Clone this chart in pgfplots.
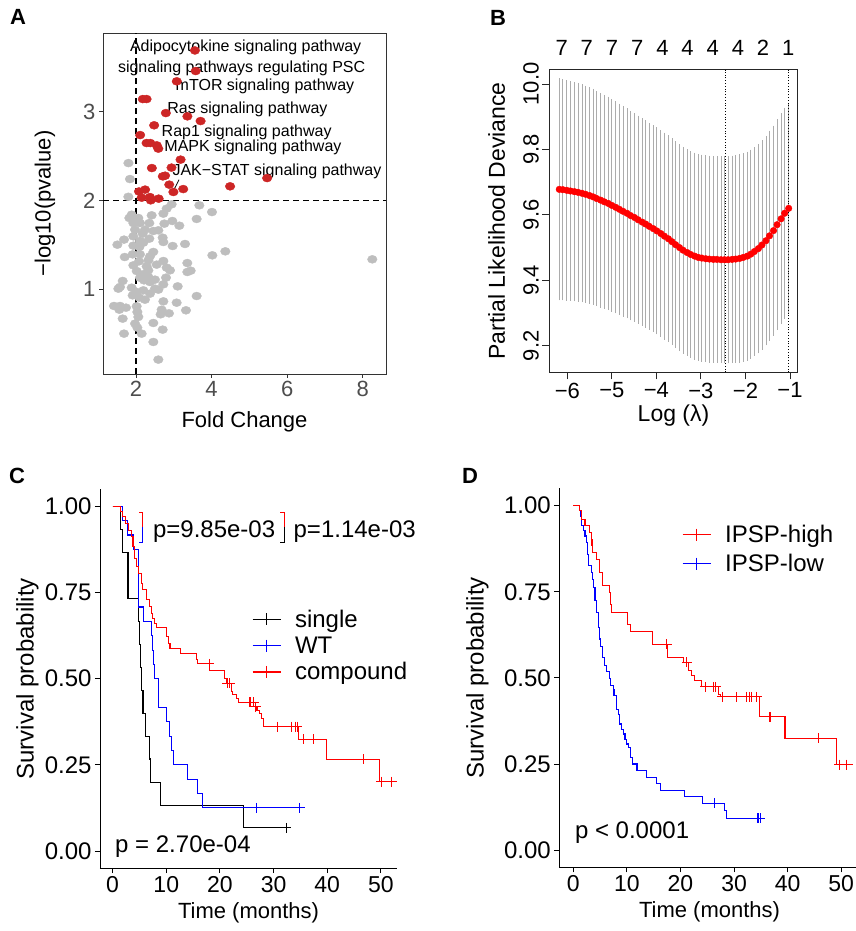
\documentclass[border=0pt]{standalone}
\usepackage{pgfplots}
\pgfplotsset{compat=1.18}
\usepackage{pgfplotstable}
\usepackage{fontspec}
\setmainfont{Liberation Sans}

\newcommand{\fs}[1]{\fontsize{#1}{#1}\selectfont}

\definecolor{volred}{RGB}{205,38,38}
\definecolor{volgray}{RGB}{190,190,190}
\definecolor{tickgray}{RGB}{77,77,77}
\definecolor{cvgray}{RGB}{172,172,172}

\pgfplotsset{
  every axis/.append style={scale only axis, anchor=south west,
    /pgf/number format/assume math mode=true},
  kmlegend/.style={
    legend image code/.code={%
      \draw[mark repeat=2,mark phase=2,##1] plot coordinates {(0pt,0pt) (14pt,0pt) (28pt,0pt)};
      \path (40pt,0pt);},
  },
}

% cross-validation curve (panel B)
\pgfplotstableread{
x y e
-6.18 9.678 .333
-6.10 9.677 .332
-6.01 9.675 .331
-5.93 9.673 .330
-5.84 9.671 .329
-5.76 9.669 .328
-5.67 9.666 .327
-5.59 9.663 .326
-5.50 9.659 .325
-5.42 9.655 .324
-5.34 9.650 .323
-5.25 9.645 .322
-5.17 9.640 .321
-5.08 9.635 .320
-5.00 9.629 .319
-4.91 9.623 .318
-4.83 9.617 .317
-4.75 9.611 .316
-4.66 9.605 .315
-4.58 9.598 .314
-4.49 9.592 .313
-4.41 9.585 .312
-4.32 9.578 .311
-4.24 9.572 .311
-4.16 9.565 .310
-4.07 9.558 .310
-3.99 9.551 .310
-3.90 9.543 .310
-3.82 9.535 .310
-3.73 9.527 .310
-3.65 9.518 .310
-3.57 9.509 .310
-3.48 9.500 .310
-3.40 9.492 .310
-3.31 9.485 .310
-3.23 9.479 .310
-3.14 9.474 .310
-3.06 9.470 .310
-2.98 9.468 .310
-2.89 9.466 .310
-2.81 9.465 .310
-2.72 9.464 .310
-2.64 9.464 .310
-2.55 9.463 .310
-2.47 9.463 .311
-2.39 9.463 .311
-2.30 9.464 .311
-2.22 9.465 .312
-2.13 9.467 .312
-2.05 9.470 .312
-1.96 9.474 .313
-1.88 9.480 .313
-1.80 9.488 .313
-1.71 9.497 .314
-1.63 9.508 .314
-1.54 9.521 .314
-1.46 9.536 .315
-1.37 9.552 .315
-1.29 9.570 .316
-1.20 9.588 .316
-1.12 9.605 .317
-1.03 9.620 .317
}\cvdata

\begin{document}
\begin{tikzpicture}
\useasboundingbox (0pt,0pt) rectangle (856pt,931pt);

\node[font=\bfseries\fs{22}] at (18pt,914pt) {A};
\node[font=\bfseries\fs{22}] at (498pt,913pt) {B};
\node[font=\bfseries\fs{22}] at (17pt,455pt) {C};
\node[font=\bfseries\fs{22}] at (470pt,455pt) {D};

% ---------------- A: volcano-like scatter
\begin{axis}[
  at={(103pt,557pt)}, width=283pt, height=341pt,
  xmin=1.127, xmax=8.616, ymin=0.042, ymax=3.887,
  xtick={2,4,6,8}, ytick={1,2,3},
  tick align=outside, tick pos=left, major tick length=4pt,
  axis line style={black!80, line width=0.9pt},
  tick style={black!80, line width=0.9pt},
  ticklabel style={font=\fs{22}, text=tickgray},
  xlabel={Fold Change}, ylabel={−log10(pvalue)},
  label style={font=\fs{22}},
  xlabel style={at={(axis description cs:0.5,-0.141)}, anchor=center},
  ylabel style={at={(axis description cs:-0.205,0.5)}, anchor=center},
]
\addplot[black, line width=1.2pt, dash pattern=on 6pt off 4pt] coordinates {(1.127,2) (8.616,2)};
\addplot[black, line width=1.2pt, dash pattern=on 6pt off 4pt] coordinates {(2,0.042) (2,3.887)};
\addplot[only marks, mark=*, mark size=4pt, volgray, mark options={draw=volgray, fill=volgray, xscale=1.2}] table {
x y
1.80 2.42
1.84 2.24
1.798 2.04
2.944 1.955
3.676 1.944
2.812 1.906
4.011 1.868
1.886 1.838
1.824 1.801
2.415 1.831
2.724 1.850
2.062 1.801
3.605 1.790
1.930 1.744
2.106 1.744
2.353 1.744
2.750 1.737
2.962 1.767
3.147 1.714
2.238 1.669
1.974 1.669
2.459 1.654
2.591 1.662
2.177 1.624
1.930 1.594
2.706 1.579
2.353 1.568
1.683 1.557
2.106 1.542
2.194 1.523
2.724 1.530
1.507 1.500
1.930 1.489
2.970 1.485
3.297 1.508
2.089 1.474
2.459 1.418
2.371 1.369
2.106 1.391
1.912 1.391
1.701 1.361
4.020 1.380
4.364 1.425
8.253 1.335
2.327 1.324
2.724 1.316
2.080 1.312
3.358 1.293
1.930 1.267
2.283 1.256
2.547 1.275
2.812 1.241
2.900 1.211
2.327 1.211
2.018 1.203
3.358 1.192
3.447 1.207
2.194 1.166
2.794 1.128
2.327 1.136
2.106 1.128
2.503 1.106
1.648 1.091
2.212 1.098
2.371 1.079
1.577 1.023
1.533 1.004
1.886 1.015
2.724 1.053
2.503 1.004
2.591 0.993
3.103 1.030
2.194 0.985
2.018 0.967
2.371 0.948
1.912 0.929
3.605 0.921
2.238 0.880
2.089 0.903
2.724 0.861
3.076 0.846
1.418 0.809
1.577 0.809
1.736 0.790
1.559 0.767
2.018 0.805
2.036 0.741
2.679 0.767
3.323 0.760
2.653 0.715
2.873 0.726
2.062 0.685
1.648 0.666
2.459 0.617
1.974 0.610
2.036 0.565
2.706 0.542
1.683 0.497
2.150 0.497
2.459 0.403
2.591 0.204
};
\addplot[only marks, mark=*, mark size=4pt, volred, mark options={draw=volred, fill=volred, xscale=1.2}] table {
x y
3.56 3.690
3.58 3.458
3.08 3.342
2.18 3.142
2.28 3.142
2.79 2.984
3.36 2.947
3.71 2.894
2.48 2.846
2.11 2.736
2.28 2.646
2.38 2.646
2.55 2.620
2.59 2.583
3.18 2.459
2.42 2.364
2.94 2.369
2.71 2.270
2.77 2.278
5.47 2.251
2.88 2.177
2.99 2.094
3.25 2.127
4.49 2.158
2.24 2.121
2.08 2.100
2.15 2.030
2.37 2.037
2.39 2.000
2.60 2.019
};
\draw[black, line width=0.8pt] (axis cs:3.138,2.233) -- (axis cs:3.005,2.120);
\node[font=\fs{16}] at (axis cs:4.902,3.722) {Adipocytokine signaling pathway};
\node[font=\fs{16}] at (axis cs:4.796,3.492) {signaling pathways regulating PSC};
\node[font=\fs{16}] at (axis cs:5.413,3.289) {mTOR signaling pathway};
\node[font=\fs{16}] at (axis cs:4.950,3.026) {Ras signaling pathway};
\node[font=\fs{16}] at (axis cs:4.929,2.770) {Rap1 signaling pathway};
\node[font=\fs{16}] at (axis cs:5.095,2.594) {MAPK signaling pathway};
\node[font=\fs{16}] at (axis cs:5.730,2.327) {JAK−STAT signaling pathway};
\end{axis}

% ---------------- B: cross-validation deviance
\begin{axis}[
  at={(549.3pt,558.7pt)}, width=248.4pt, height=302.6pt,
  xmin=-6.404, xmax=-0.827, ymin=9.119, ymax=10.0437,
  xtick={-6,-5,-4,-3,-2,-1}, xticklabels={−6,−5,−4,−3,−2,−1},
  ytick={9.2,9.4,9.6,9.8,10.0}, yticklabels={9.2,9.4,9.6,9.8,10.0},
  tick align=outside, tick pos=left, major tick length=7pt,
  axis line style={black!85, line width=0.9pt},
  tick style={black!85, line width=0.9pt},
  ticklabel style={font=\fs{22}},
  yticklabel style={rotate=90, anchor=south},
  xlabel={Log (λ)}, ylabel={Partial Likelihood Deviance},
  label style={font=\fs{23}},
  xlabel style={at={(axis description cs:0.5,-0.144)}, anchor=center},
  ylabel style={at={(axis description cs:-0.212,0.5)}, anchor=center},
  clip=false,
]
\addplot[only marks, mark=none, forget plot,
  error bars/.cd, y dir=both, y explicit,
  error bar style={cvgray, line width=0.8pt},
  error mark options={cvgray, mark size=2pt, line width=0.8pt}]
  table[x=x, y=y, y error=e] {\cvdata};
\addplot[black, dotted, line width=0.8pt] coordinates {(-2.446,9.119) (-2.446,10.0437)};
\addplot[black, dotted, line width=0.8pt] coordinates {(-1.03,9.119) (-1.03,10.0437)};
\addplot[only marks, mark=*, mark size=3.3pt, red, mark options={draw=red, fill=red}] table[x=x, y=y] {\cvdata};
\node[font=\fs{22}] at (axis cs:-6.126,10.11) {7};
\node[font=\fs{22}] at (axis cs:-5.561,10.11) {7};
\node[font=\fs{22}] at (axis cs:-4.995,10.11) {7};
\node[font=\fs{22}] at (axis cs:-4.430,10.11) {7};
\node[font=\fs{22}] at (axis cs:-3.865,10.11) {4};
\node[font=\fs{22}] at (axis cs:-3.299,10.11) {4};
\node[font=\fs{22}] at (axis cs:-2.734,10.11) {4};
\node[font=\fs{22}] at (axis cs:-2.169,10.11) {4};
\node[font=\fs{22}] at (axis cs:-1.604,10.11) {2};
\node[font=\fs{22}] at (axis cs:-1.038,10.11) {1};
\end{axis}

% ---------------- C: survival by mutation type
\begin{axis}[
  at={(100pt,62.8pt)}, width=297pt, height=379pt,
  xmin=-2.35, xmax=53.0, ymin=-0.05, ymax=1.05,
  axis lines*=left,
  xtick={0,10,20,30,40,50}, ytick={0,0.25,0.5,0.75,1},
  yticklabels={0.00,0.25,0.50,0.75,1.00},
  tick align=outside, major tick length=5pt,
  axis line style={black, line width=0.9pt}, tick style={black, line width=0.9pt},
  yticklabel style={font=\fs{24}},
  xticklabel style={font=\fs{23}},
  xlabel={Time (months)}, ylabel={Survival probability},
  xlabel style={font=\fs{22}, at={(axis description cs:0.5,-0.117)}, anchor=center},
  ylabel style={font=\fs{24}, at={(axis description cs:-0.244,0.5)}, anchor=center},
  clip=false, kmlegend,
  legend style={at={(0.511,0.688)}, anchor=north west, draw=none, fill=none,
    font=\fs{24}, row sep=4pt, inner sep=0pt},
  legend cell align=left,
]
\addplot[black, const plot, line width=1.1pt, forget plot] table {
m s
0 1
1.4 0.933
1.9 0.867
2.86 0.733
4.9 0.667
5.0 0.600
5.15 0.533
5.35 0.467
5.66 0.400
6.1 0.333
6.8 0.267
7.0 0.200
8.9 0.133
24.4 0.067
32.4 0.067
};
\addplot[blue, const plot, line width=1.1pt, forget plot] table {
m s
0 1
1.9 0.958
2.8 0.917
3.9 0.875
4.9 0.708
5.8 0.667
7.2 0.625
7.4 0.583
7.6 0.542
7.8 0.500
8.6 0.417
10.0 0.375
10.6 0.333
10.9 0.292
11.3 0.250
13.9 0.208
15.9 0.167
16.7 0.125
35.6 0.125
};
\addplot[red, const plot, line width=1.1pt, forget plot] table {
m s
0 1
1.4 0.985
1.9 0.970
2.4 0.951
3.0 0.930
3.5 0.912
3.8 0.883
4.1 0.850
4.4 0.825
4.9 0.806
5.35 0.777
5.65 0.758
6.3 0.729
6.8 0.709
7.2 0.690
7.5 0.675
7.8 0.661
8.1 0.649
10.0 0.622
10.4 0.603
10.7 0.588
12.6 0.572
15.6 0.556
15.8 0.543
18.1 0.525
20.9 0.500
21.2 0.487
22.1 0.462
22.4 0.453
23.1 0.443
23.5 0.432
26.6 0.419
26.9 0.409
27.4 0.399
27.8 0.385
28.2 0.361
34.6 0.324
39.9 0.266
49.7 0.201
52.0 0.201
};
\addplot[only marks, mark=+, mark size=5pt, black, line width=1.1pt, forget plot] coordinates {(32.4,0.067)};
\addplot[only marks, mark=+, mark size=5pt, blue, line width=1.1pt, forget plot] coordinates {(26.8,0.125) (34.9,0.125)};
\addplot[only marks, mark=+, mark size=5pt, red, line width=1.1pt, forget plot] coordinates {
(18.0,0.543) (21.4,0.487) (21.8,0.487) (25.6,0.432) (26.3,0.432) (26.7,0.419)
(30.8,0.361) (33.3,0.361) (34.0,0.361) (34.4,0.361) (35.5,0.324) (37.4,0.324)
(46.7,0.266) (50.1,0.201) (52.0,0.201)};
\addlegendimage{black, mark=+, mark size=6pt, line width=1.1pt}
\addlegendentry{single}
\addlegendimage{blue, mark=+, mark size=6pt, line width=1.1pt}
\addlegendentry{WT}
\addlegendimage{red, mark=+, mark size=6pt, line width=1.1pt}
\addlegendentry{compound}
\draw[red, line width=0.9pt] (axis cs:4.98,0.982) -- (axis cs:5.62,0.982) -- (axis cs:5.62,0.941);
\draw[blue, line width=0.9pt] (axis cs:5.62,0.941) -- (axis cs:5.62,0.896) -- (axis cs:4.98,0.896);
\draw[red, line width=0.9pt] (axis cs:31.2,0.982) -- (axis cs:32.0,0.982) -- (axis cs:32.0,0.941);
\draw[black, line width=0.9pt] (axis cs:32.0,0.941) -- (axis cs:32.0,0.896) -- (axis cs:31.2,0.896);
\node[anchor=west, font=\fs{24}, inner sep=0pt] at (axis cs:7.5,0.927) {p=9.85e-03};
\node[anchor=west, font=\fs{24}, inner sep=0pt] at (axis cs:33.7,0.927) {p=1.14e-03};
\node[anchor=west, font=\fs{24}, inner sep=0pt] at (axis cs:0.45,0.013) {p = 2.70e-04};
\end{axis}

% ---------------- D: survival by IPSP score
\begin{axis}[
  at={(559.3pt,63.7pt)}, width=306.6pt, height=378.8pt,
  xmin=-2.6, xmax=54.6, ymin=-0.05, ymax=1.05,
  axis lines*=left,
  xtick={0,10,20,30,40,50}, ytick={0,0.25,0.5,0.75,1},
  yticklabels={0.00,0.25,0.50,0.75,1.00},
  tick align=outside, major tick length=5pt,
  axis line style={black, line width=0.9pt}, tick style={black, line width=0.9pt},
  yticklabel style={font=\fs{24}},
  xticklabel style={font=\fs{23}},
  xlabel={Time (months)}, ylabel={Survival probability},
  xlabel style={font=\fs{22}, at={(axis description cs:0.49,-0.117)}, anchor=center},
  ylabel style={font=\fs{24}, at={(axis description cs:-0.267,0.5)}, anchor=center},
  clip=false, kmlegend,
  legend style={at={(0.40,0.909)}, anchor=north west, draw=none, fill=none,
    font=\fs{24}, row sep=6pt, inner sep=0pt},
  legend cell align=left,
]
\addplot[blue, const plot, line width=1.1pt, forget plot] table {
m s
0 1
1.1 0.985
1.4 0.970
1.6 0.942
1.9 0.927
2.2 0.912
2.4 0.893
2.6 0.859
2.8 0.826
3.4 0.806
3.6 0.787
3.7 0.763
4.05 0.724
4.4 0.690
4.65 0.647
4.85 0.613
5.1 0.590
5.5 0.558
5.9 0.535
6.2 0.518
6.7 0.499
7.0 0.478
7.5 0.467
7.6 0.448
8.0 0.429
8.1 0.409
8.4 0.395
8.6 0.366
9.0 0.351
9.3 0.337
9.65 0.322
9.96 0.308
10.3 0.298
10.6 0.289
10.7 0.269
11.1 0.250
11.9 0.232
13.6 0.211
15.6 0.194
16.2 0.174
20.8 0.155
24.1 0.136
28.3 0.114
28.6 0.092
35.4 0.092
};
\addplot[red, const plot, line width=1.1pt, forget plot] table {
m s
0 1
1.1 0.985
1.6 0.961
2.2 0.942
3.0 0.922
3.4 0.903
3.5 0.884
3.6 0.864
4.4 0.845
4.9 0.806
5.5 0.768
6.7 0.748
6.9 0.714
7.2 0.690
10.06 0.656
10.7 0.635
14.8 0.598
17.6 0.560
20.5 0.545
21.5 0.521
22.1 0.506
22.7 0.492
24.0 0.474
27.1 0.453
27.5 0.445
34.8 0.387
39.5 0.325
49.1 0.248
52.2 0.248
};
\addplot[only marks, mark=+, mark size=5pt, blue, line width=1.1pt, forget plot] coordinates {(26.3,0.136) (34.3,0.092) (34.6,0.092) (34.9,0.092)};
\addplot[only marks, mark=+, mark size=5pt, red, line width=1.1pt, forget plot] coordinates {
(17.4,0.598) (21.2,0.545) (24.6,0.474) (26.2,0.474) (26.6,0.474) (27.8,0.445)
(30.4,0.445) (32.3,0.445) (32.8,0.445) (33.3,0.445) (34.2,0.445) (36.7,0.387)
(45.7,0.325) (49.6,0.248) (51.0,0.248)};
\addlegendimage{red, mark=+, mark size=6pt, line width=1.1pt}
\addlegendentry{IPSP-high}
\addlegendimage{blue, mark=+, mark size=6pt, line width=1.1pt}
\addlegendentry{IPSP-low}
\node[anchor=west, font=\fs{24}, inner sep=0pt] at (axis cs:0.3,0.051) {p < 0.0001};
\end{axis}
\end{tikzpicture}
\end{document}
